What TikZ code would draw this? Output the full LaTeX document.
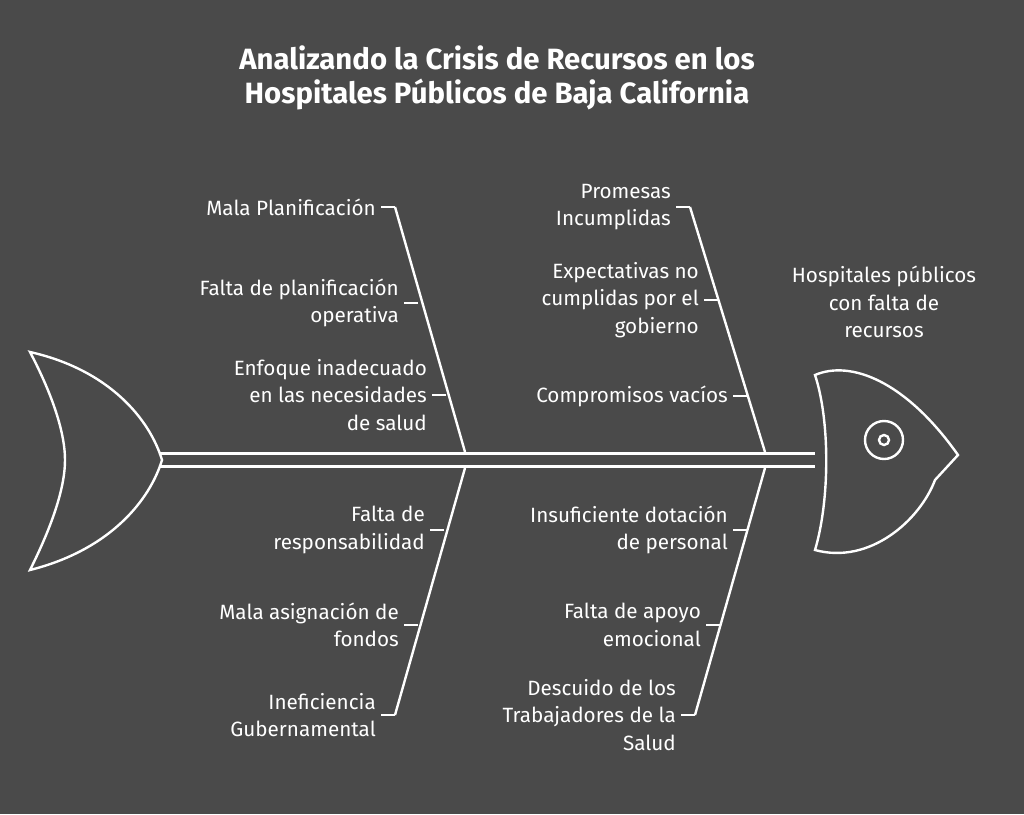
\documentclass[tikz,border=0pt]{standalone}
\usepackage{fontspec}
\setmainfont{Fira Sans}
\definecolor{board}{HTML}{4A4A4A}
\begin{document}
\begin{tikzpicture}[x=0.75pt,y=-0.75pt,line width=1.8pt,white,
  lbl/.style={font=\fontsize{15.5}{20.5}\selectfont,align=right,inner sep=3pt,anchor=east},
  lbll/.style={lbl,align=center}]
 % background
 \fill[board] (0,0) rectangle (1024,814);
 \useasboundingbox (0,0) rectangle (1024,814);

 % title
 \node[font=\fontsize{22}{25}\selectfont\bfseries,align=center] (title) at (497,78)
   {Analizando la Crisis de Recursos en los\\Hospitales Públicos de Baja California};

 % spine
 \coordinate (sL) at (160,460);
 \coordinate (sR) at (815,460);
 \draw ([yshift=-5]sL) -- ([yshift=-5]sR);
 \draw ([yshift=5]sL) -- ([yshift=5]sR);

 % tail
 \draw (30,352) .. controls (110,370) and (150,420) .. (162,460)
       .. controls (150,500) and (110,550) .. (30,570)
       .. controls (50,530) and (65,490) .. (65,460)
       .. controls (65,430) and (50,390) .. (30,352) -- cycle;

 % head
 \draw (815,375) .. controls (850,360) and (905,380) .. (958,455)
       -- (935,480) .. controls (920,520) and (870,565) .. (815,550)
       .. controls (830,500) and (830,420) .. (815,375) -- cycle;
 \draw (884,440) circle (19);
 \draw (884,440) circle (5);

 % bones
 \coordinate (lu) at (395,207);
 \coordinate (ld) at (395,715);
 \coordinate (ru) at (690,207);
 \coordinate (rd) at (695,715);
 \draw (lu) -- (465,452);
 \draw (465,468) -- (ld);
 \draw (ru) -- (765,452);
 \draw (765,468) -- (rd);

 % left labels
 \draw (lu) -- ++(-14,0) node[lbl] (mala) {Mala Planificación};
 \draw (418,303) -- ++(-14,0) node[lbl] (falta) {Falta de planificación\\operativa};
 \draw (446,395) -- ++(-14,0) node[lbl] (enfoque) {Enfoque inadecuado\\en las necesidades\\de salud};
 \draw (444,530) -- ++(-14,0) node[lbl] (resp) {Falta de\\responsabilidad};
 \draw (418,625) -- ++(-14,0) node[lbl] (asig) {Mala asignación de\\fondos};
 \draw (ld) -- ++(-14,0) node[lbl] (inef) {Ineficiencia\\Gubernamental};

 % right labels
 \draw (ru) -- ++(-14,0) node[lbl] (prom) {Promesas\\Incumplidas};
 \draw (718,300) -- ++(-14,0) node[lbl] (expec) {Expectativas no\\cumplidas por el\\gobierno};
 \draw (747,396) -- ++(-14,0) node[lbl] (comp) {Compromisos vacíos};
 \draw (747,530) -- ++(-14,0) node[lbl] (insuf) {Insuficiente dotación\\de personal};
 \draw (720,625) -- ++(-14,0) node[lbl] (apoyo) {Falta de apoyo\\emocional};
 \draw (rd) -- ++(-14,0) node[lbl] (desc) {Descuido de los\\Trabajadores de la\\Salud};

 % effect
 \node[lbll,anchor=center] (effect) at (884,302) {Hospitales públicos\\con falta de\\recursos};
\end{tikzpicture}
\end{document}
